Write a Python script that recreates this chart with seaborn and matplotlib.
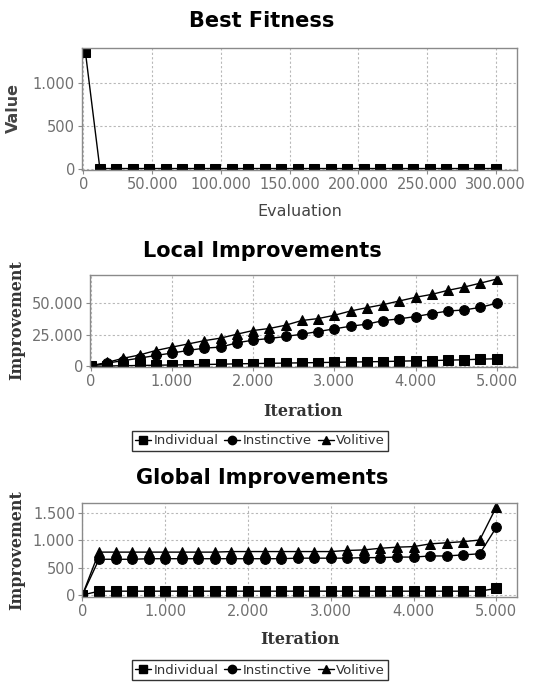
import matplotlib
matplotlib.use("Agg")
import matplotlib.pyplot as plt
import seaborn as sns
import pandas as pd
from matplotlib.ticker import FuncFormatter, FixedLocator
from matplotlib.lines import Line2D

# ---------------- data ----------------
fitness_eval = [1500] + [12000 * k for k in range(1, 26)]
fitness_value = [1360] + [5] * 25

iterations = list(range(0, 5001, 200))

local_individual = [0, 300, 500, 700, 900, 1100, 1300, 1500, 1700, 2000, 2200, 2400, 2600,
                    2800, 3000, 3200, 3400, 3600, 3800, 4100, 4400, 4600, 4900, 5200, 5700, 6000]
local_instinctive = [0, 2600, 4500, 6500, 8600, 10500, 12600, 14400, 15200, 18600, 20700, 22000,
                     23600, 25400, 27500, 29600, 31700, 33300, 36100, 37500, 39300, 41600, 43700,
                     44500, 46600, 49800]
local_volitive = [500, 3100, 6400, 9000, 12500, 15200, 17700, 20300, 22300, 25400, 28300, 29900,
                  32500, 36200, 37700, 40300, 43700, 46300, 48700, 51600, 54500, 56800, 60000,
                  62600, 65700, 68900]

global_individual = [0] + [70] * 24 + [120]
global_instinctive = [0, 650, 650, 650, 660, 660, 660, 660, 660, 660, 660, 660, 660, 670, 670,
                      670, 670, 680, 680, 690, 690, 710, 710, 730, 750, 1230]
global_volitive = [0, 780, 780, 780, 780, 780, 780, 780, 780, 790, 790, 790, 790, 790, 790, 790,
                   810, 820, 850, 870, 880, 930, 950, 970, 1000, 1600]

series_names = ["Individual", "Instinctive", "Volitive"]
series_markers = ["s", "o", "^"]

# ---------------- style ----------------
sns.set_theme(style="white")
plt.rcParams["font.family"] = ["DejaVu Sans"]

W, H = 554, 686
fig = plt.figure(figsize=(W / 100, H / 100), dpi=100)


def rect(l, t, r, b):
    return [l / W, 1 - b / H, (r - l) / W, (b - t) / H]


def dotfmt(v, pos):
    return f"{int(round(v)):,}".replace(",", ".")


grid_kw = dict(color="#b8b8b8", linestyle=(0, (2, 2)), linewidth=0.8)
tick_color = "#707070"


def style_axes(ax):
    ax.set_facecolor("white")
    for s in ax.spines.values():
        s.set_color("#8a8a8a")
        s.set_linewidth(1.0)
    ax.grid(True, **grid_kw)
    ax.tick_params(axis="both", which="both", direction="out", length=3, width=0.8,
                   color="#8a8a8a", labelcolor=tick_color, labelsize=10.5, pad=2,
                   bottom=True, left=True)
    ax.xaxis.set_major_formatter(FuncFormatter(dotfmt))
    ax.yaxis.set_major_formatter(FuncFormatter(dotfmt))
    ax.set_xlabel("")
    ax.set_ylabel("")


# ---------------- panel 1 ----------------
ax1 = fig.add_axes(rect(82, 48, 517, 170))
df1 = pd.DataFrame({"Evaluation": fitness_eval, "Value": fitness_value})
sns.lineplot(data=df1, x="Evaluation", y="Value", ax=ax1, color="black", linewidth=1.0,
             marker="s", markersize=6.5, markeredgecolor="black", markerfacecolor="black")
ax1.set_xlim(-1000, 315500)
ax1.set_ylim(-12, 1410)
ax1.xaxis.set_major_locator(FixedLocator([0, 50000, 100000, 150000, 200000, 250000, 300000]))
ax1.yaxis.set_major_locator(FixedLocator([0, 500, 1000]))
style_axes(ax1)


def improvement_panel(rectangle, indiv, instinct, volit, xlim, ylim, yticks):
    ax = fig.add_axes(rectangle)
    df = pd.DataFrame({
        "Iteration": iterations * 3,
        "Improvement": indiv + instinct + volit,
        "Series": sum([[n] * len(iterations) for n in series_names], []),
    })
    sns.lineplot(data=df, x="Iteration", y="Improvement", hue="Series", style="Series",
                 markers=dict(zip(series_names, series_markers)), dashes=False,
                 palette=["black"] * 3, ax=ax, linewidth=1.0, markersize=7,
                 markeredgecolor="black", legend=False)
    ax.set_xlim(*xlim)
    ax.set_ylim(*ylim)
    ax.xaxis.set_major_locator(FixedLocator([0, 1000, 2000, 3000, 4000, 5000]))
    ax.yaxis.set_major_locator(FixedLocator(yticks))
    style_axes(ax)
    return ax


ax2 = improvement_panel(rect(90, 275, 517, 367), local_individual, local_instinctive,
                        local_volitive, (-10, 5250), (-500, 72100), [0, 25000, 50000])
ax3 = improvement_panel(rect(82, 503, 517, 597), global_individual, global_instinctive,
                        global_volitive, (-5, 5250), (-36, 1673), [0, 500, 1000, 1500])

# ---------------- titles & labels ----------------
title_kw = dict(ha="center", va="center", fontsize=15, fontweight="heavy", color="black")
fig.text(262 / W, 1 - 21 / H, "Best Fitness", **title_kw)
fig.text(262 / W, 1 - 251 / H, "Local Improvements", **title_kw)
fig.text(262 / W, 1 - 478 / H, "Global Improvements", **title_kw)

fig.text(300 / W, 1 - 212 / H, "Evaluation", ha="center", va="center", fontsize=11.5,
         color="#444444")
fig.text(13 / W, 1 - 108 / H, "Value", ha="center", va="center", rotation=90, fontsize=11.5,
         fontweight="bold", color="#444444")

serif_kw = dict(ha="center", va="center", fontsize=11.5, fontweight="bold",
                family="DejaVu Serif", color="#333333")
fig.text(303 / W, 1 - 412 / H, "Iteration", **serif_kw)
fig.text(17 / W, 1 - 320 / H, "Improvement", rotation=90, **serif_kw)
fig.text(300 / W, 1 - 640 / H, "Iteration", **serif_kw)
fig.text(17 / W, 1 - 550 / H, "Improvement", rotation=90, **serif_kw)

# ---------------- legends ----------------
handles = [Line2D([0], [0], color="black", marker=m, markersize=6, linewidth=1.0)
           for m in series_markers]


def add_legend(ycenter):
    leg = fig.legend(handles, series_names, loc="center", bbox_to_anchor=(260 / W, 1 - ycenter / H),
                     ncol=3, frameon=True, fancybox=False, fontsize=9.5, handlelength=1.2,
                     handletextpad=0.2, columnspacing=0.45, borderpad=0.25, borderaxespad=0)
    fr = leg.get_frame()
    fr.set_edgecolor("black")
    fr.set_linewidth(1.0)
    for t in leg.get_texts():
        t.set_color("#333333")


add_legend(441)
add_legend(670)

fig.savefig("out.png", dpi=100, facecolor="white")
